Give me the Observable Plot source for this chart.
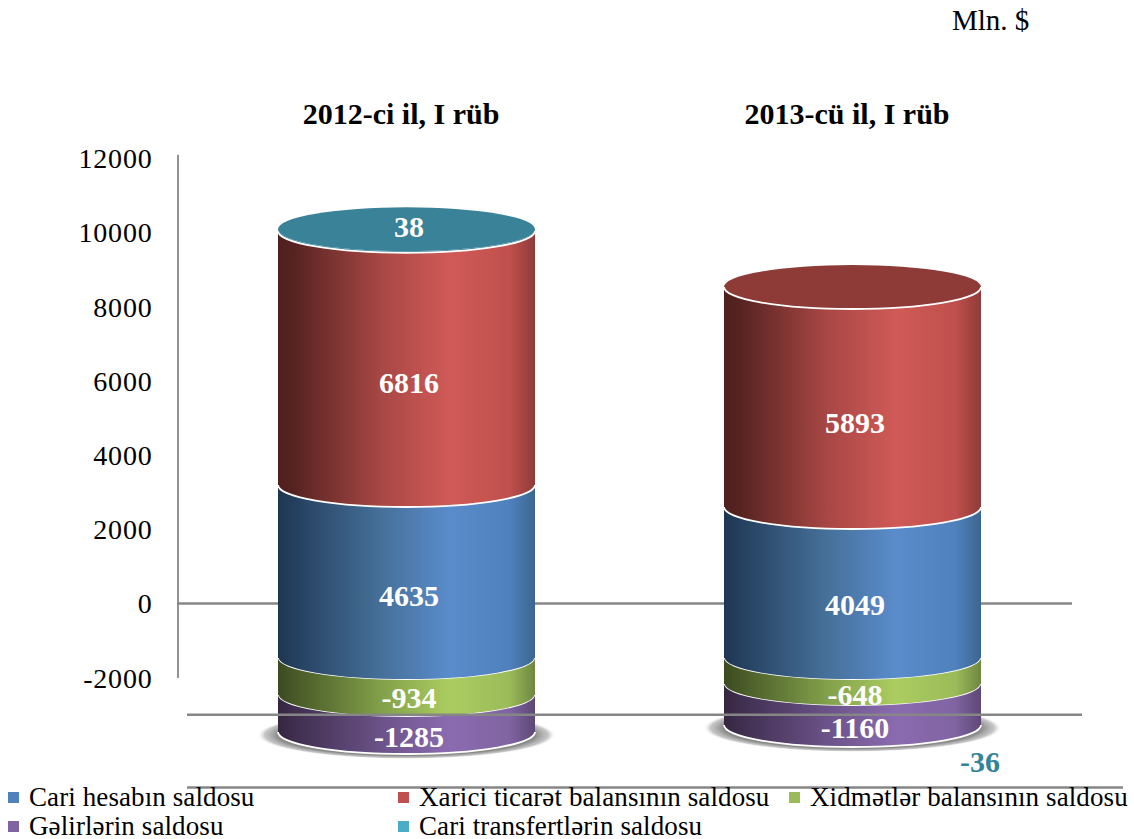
<!DOCTYPE html>
<html><head><meta charset="utf-8">
<script src="https://cdn.jsdelivr.net/npm/d3@7"></script>
<script src="https://cdn.jsdelivr.net/npm/@observablehq/plot@0.6"></script>
<style>
html,body{margin:0;padding:0;background:#fff;overflow:hidden;width:1134px;height:839px;font-family:"Liberation Serif","Times New Roman",serif;color:#000}
#unit{height:40px;box-sizing:border-box;padding-left:952px;padding-top:5px;font-size:29px;line-height:30px;white-space:nowrap}
#chart{display:block;height:750px}
#chart svg{display:block}
#chart g[aria-label="y-axis tick label"] text{letter-spacing:.8px}
#legend{position:relative;margin-top:-7px;height:56px;display:grid;grid-template-columns:390px 391px 340px;grid-auto-rows:29px;padding-left:8px;font-size:27px;line-height:29px;white-space:nowrap;letter-spacing:.1px}
#legend span{display:flex;align-items:center}
#legend i{display:inline-block;width:11px;height:11px;margin-right:10px;flex:none}
</style></head>
<body>
<div id="unit">Mln. $</div>
<div id="chart"></div>
<div id="legend"></div>
<script>
const periods = ["2012-ci il, I rüb", "2013-cü il, I rüb"];
const seriesNames = ["Cari hesabın saldosu", "Xarici ticarət balansının saldosu", "Xidmətlər balansının saldosu", "Gəlirlərin saldosu", "Cari transfertlərin saldosu"];
const seriesColors = ["#4f81bd", "#c0504d", "#9bbb59", "#8064a2", "#4bacc6"];

// printed values
const cariHesab = [4635, 4049];
const xariciTicaret = [6816, 5893];
const xidmetler = [-934, -648];
const gelirler = [-1285, -1160];
const transfertler = [38, -36];

// where the picture draws each band, read against its axis
const cariLow = [-1482, -1482], cariHigh = [3180, 2588];
const xariciLow = [3180, 2588], xariciHigh = [10030, 8517];
const xidmetLow = [-2480, -2183], xidmetHigh = [-1482, -1482];
const gelirLow = [-3477, -3288], gelirHigh = [-2480, -2183];
const transferLow = [10030, null], transferHigh = [10075, null];

// where the picture prints each value, read against its axis
const cariLabelY = [190, -50];
const xariciLabelY = [5927, 4852];
const xidmetLabelY = [-2561, -2480];
const gelirLabelY = [-3612, -3369];
const transferLabelY = [10145, -4290];

const yTicks = [-2000, 0, 2000, 4000, 6000, 8000, 10000, 12000];

const sets = [
  [cariHesab, cariLow, cariHigh, cariLabelY],
  [xariciTicaret, xariciLow, xariciHigh, xariciLabelY],
  [xidmetler, xidmetLow, xidmetHigh, xidmetLabelY],
  [gelirler, gelirLow, gelirHigh, gelirLabelY],
  [transfertler, transferLow, transferHigh, transferLabelY]
];
const rows = sets.flatMap(([vals, lows, highs, ly], s) => periods.map((p, i) => ({
  period: p, series: seriesNames[s], s, value: vals[i], low: lows[i], high: highs[i], labelY: ly[i]
})));
const drawn = rows.filter(d => d.low != null);

const gradients = [
  [[0,"#1e3650"],[.06,"#243f5e"],[.4,"#467099"],[.67,"#5a8ccc"],[.9,"#4f81bd"],[1,"#3c6690"]],
  [[0,"#4e201e"],[.06,"#562321"],[.4,"#a84744"],[.67,"#d05a57"],[.9,"#c0504d"],[1,"#8f3b39"]],
  [[0,"#3c4a21"],[.06,"#475827"],[.4,"#82a04a"],[.67,"#abcd60"],[.9,"#9bbb59"],[1,"#6f8740"]],
  [[0,"#35263f"],[.06,"#3f2e4e"],[.4,"#6b5288"],[.67,"#8b6bb0"],[.9,"#8064a2"],[1,"#5c4876"]],
  [[0,"#3a8297"],[1,"#3a8297"]]
];
const capColors = {1: "#8e3b38", 4: "#3a8297"};
const svgNS = "http://www.w3.org/2000/svg";
const RY = 22;

function addDefs(g) {
  const defs = document.createElementNS(svgNS, "defs");
  gradients.forEach((stops, s) => {
    const lg = document.createElementNS(svgNS, "linearGradient");
    lg.setAttribute("id", "side" + s);
    stops.forEach(([o, c]) => {
      const st = document.createElementNS(svgNS, "stop");
      st.setAttribute("offset", o); st.setAttribute("stop-color", c);
      lg.appendChild(st);
    });
    defs.appendChild(lg);
  });
  const rg = document.createElementNS(svgNS, "radialGradient");
  rg.setAttribute("id", "shadow");
  [[0,"#8a8a8a",1],[.86,"#8a8a8a",1],[.95,"#b0b0b0",.7],[1,"#ffffff",0]].forEach(([o,c,a]) => {
    const st = document.createElementNS(svgNS, "stop");
    st.setAttribute("offset", o); st.setAttribute("stop-color", c); st.setAttribute("stop-opacity", a);
    rg.appendChild(st);
  });
  defs.appendChild(rg);
  g.appendChild(defs);
}
function pathEl(g, d, attrs) {
  const p = document.createElementNS(svgNS, "path");
  p.setAttribute("d", d);
  for (const k in attrs) p.setAttribute(k, attrs[k]);
  g.appendChild(p);
}
function cylinders(data) {
  return Plot.barY(data, {x: "period", y1: "low", y2: "high", render(index, scales) {
    const g = document.createElementNS(svgNS, "g");
    const bw = scales.x.bandwidth();
    const rx = bw / 2;
    for (const i of index) {
      const d = data[i];
      const x0 = scales.x(d.period), x1 = x0 + bw;
      const yt = scales.y(d.high), yb = scales.y(d.low);
      pathEl(g, `M${x0},${yt}A${rx},${RY} 0 0 0 ${x1},${yt}L${x1},${yb}A${rx},${RY} 0 0 1 ${x0},${yb}Z`, {fill: `url(#side${d.s})`});
      pathEl(g, `M${x0},${yb}A${rx},${RY} 0 0 0 ${x1},${yb}`, {fill: "none", stroke: "#fff", "stroke-width": 1.8});
      const isTop = d.s === 4 || (d.s === 1 && !data.some(r => r.s === 4 && r.period === d.period));
      if (isTop) {
        pathEl(g, `M${x0},${yt}A${rx},${RY} 0 1 1 ${x1},${yt}A${rx},${RY} 0 1 1 ${x0},${yt}Z`, {fill: capColors[d.s]});
        if (d.s === 1) pathEl(g, `M${x0},${yt}A${rx},${RY} 0 0 0 ${x1},${yt}`, {fill: "none", stroke: "#fff", "stroke-width": 1.8});
      }
    }
    return g;
  }});
}
function shadows(data) {
  return Plot.barY(data, {x: "period", y1: "low", y2: "high", render(index, scales) {
    const g = document.createElementNS(svgNS, "g");
    addDefs(g);
    const bw = scales.x.bandwidth();
    for (const i of index) {
      const d = data[i];
      const e = document.createElementNS(svgNS, "ellipse");
      e.setAttribute("cx", scales.x(d.period) + bw / 2);
      e.setAttribute("cy", scales.y(d.low) + 3);
      e.setAttribute("rx", bw / 2 + 21);
      e.setAttribute("ry", RY + 2);
      e.setAttribute("fill", "url(#shadow)");
      g.appendChild(e);
    }
    return g;
  }});
}

const lineColor = "#868686";
const labelFont = {fontFamily: "Liberation Serif", fontWeight: "bold", fontSize: 30};
const plot = Plot.plot({
  width: 1134,
  height: 750,
  marginLeft: 177,
  marginRight: 62,
  marginTop: 90,
  marginBottom: 1,
  style: {fontFamily: "Liberation Serif", background: "transparent", overflow: "visible"},
  x: {domain: periods, range: [183.5, 1075.5], paddingInner: 0.4238, paddingOuter: 0.2119, label: null},
  y: {domain: [-5000, 12000], range: [748.5, 117.8], label: null},
  marks: [
    shadows(drawn.filter(d => d.s === 3)),
    Plot.ruleY([0], {stroke: lineColor, strokeWidth: 2.6}),
    Plot.ruleX([periods[0]], {x: d => d, y1: -2020, y2: 12080, dx: -229, stroke: lineColor, strokeWidth: 1.8}),
    cylinders(drawn.filter(d => d.s !== 3)),
    Plot.text(rows.filter(d => d.s === 2), {x: "period", y: "labelY", dx: 2, text: d => String(d.value), fill: "#fff", ...labelFont}),
    cylinders(drawn.filter(d => d.s === 3)),
    Plot.ruleY([-3000], {dx: 10, stroke: lineColor, strokeWidth: 2.6}),
    Plot.ruleY([-4960], {insetLeft: 10, insetRight: -51, stroke: lineColor, strokeWidth: 2.6}),
    Plot.text(rows.filter(d => d.s !== 2 && d.value > 0 || d.s === 3), {x: "period", y: "labelY", dx: 2, text: d => String(d.value), fill: "#fff", ...labelFont}),
    Plot.text(rows.filter(d => d.s === 4 && d.value < 0), {x: "period", y: "labelY", dx: 127, text: d => String(d.value), fill: "#31849b", ...labelFont}),
    Plot.axisX({anchor: "top", tickSize: 0, tickPadding: 7, dx: -6, fontSize: 30, fontWeight: "bold", label: null, fill: "#000"}),
    Plot.axisY({ticks: yTicks, tickFormat: d => String(d), tickSize: 0, tickPadding: 25, dy: 1, fontSize: 28, label: null, anchor: "left", fill: "#000"})
  ]
});
document.getElementById("chart").appendChild(plot);

const leg = document.getElementById("legend");
seriesNames.forEach((n, i) => {
  const s = document.createElement("span");
  const sw = document.createElement("i");
  sw.style.background = seriesColors[i];
  s.appendChild(sw);
  s.appendChild(document.createTextNode(n));
  leg.appendChild(s);
});
</script>
</body></html>
